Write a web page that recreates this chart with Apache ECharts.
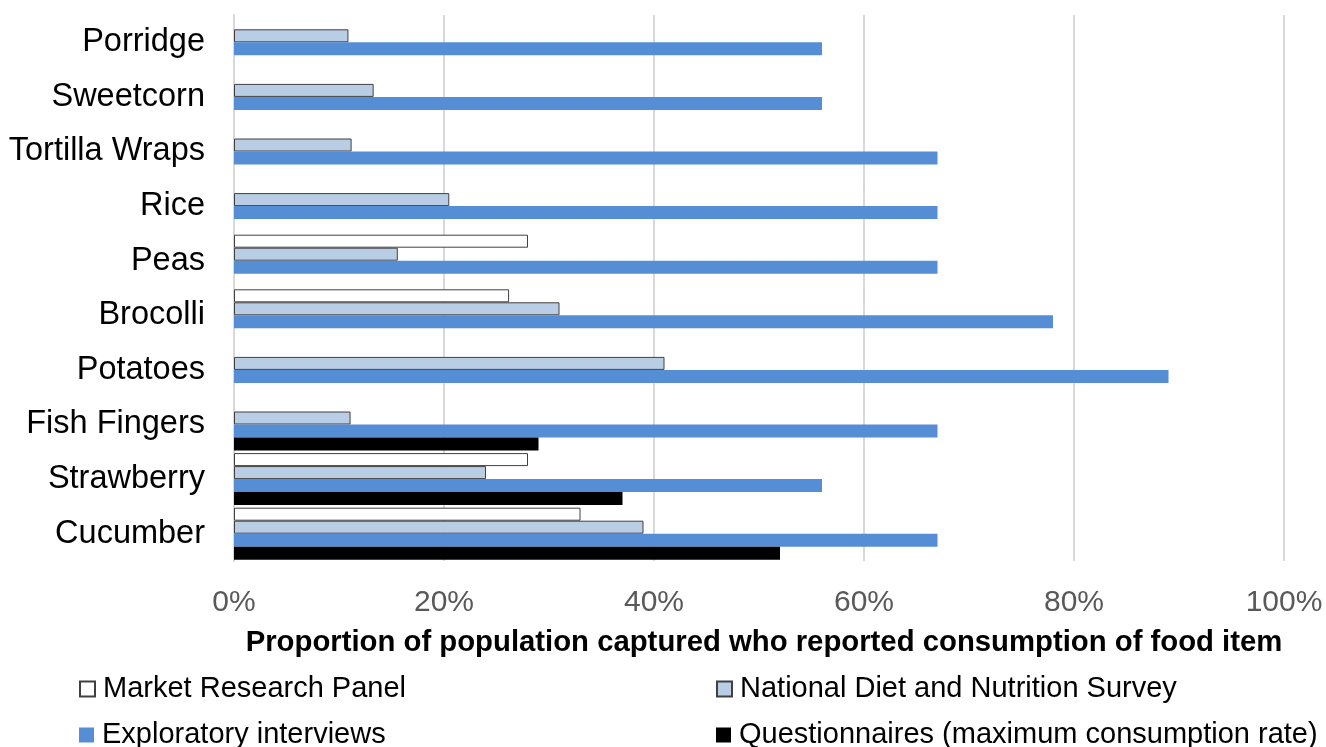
<!DOCTYPE html>
<html>
<head>
<meta charset="utf-8">
<script src="https://cdn.jsdelivr.net/npm/echarts@6/dist/echarts.min.js"></script>
<style>
html,body{margin:0;padding:0;background:#fff;}
#chart{width:1326px;height:747px;}
</style>
</head>
<body>
<div id="chart"></div>
<script>
const categories = ['Porridge','Sweetcorn','Tortilla Wraps','Rice','Peas','Brocolli','Potatoes','Fish Fingers','Strawberry','Cucumber'];
const marketResearchPanel = [null,null,null,null,28,26.2,null,null,28,33];
const ndns = [10.9,13.3,11.2,20.5,15.6,31,41,11.1,24,39];
const exploratoryInterviews = [56,56,67,67,67,78,89,67,56,67];
const questionnaires = [null,null,null,null,null,null,null,29,37,52];
const xTicks = [0,20,40,60,80,100];
const seriesNames = ['Market Research Panel','National Diet and Nutrition Survey','Exploratory interviews','Questionnaires (maximum consumption rate)'];

const FONT = '"Liberation Sans", Arial, sans-serif';
const chart = echarts.init(document.getElementById('chart'), null, {renderer:'canvas'});
const borderCol = '#404040';
const legendText = {fontFamily: FONT, fontSize: 29, lineHeight: 30, color: '#000', padding: [0,0,0,3]};
const legendPos = [[79, 674], [716, 674], [79, 720], [716, 720]];

chart.setOption({
  animation: false,
  textStyle: {fontFamily: FONT},
  grid: {left: 234, right: 42, top: 15, bottom: 186, containLabel: false},
  xAxis: {
    type: 'value', min: xTicks[0], max: xTicks[xTicks.length-1], interval: 20,
    axisLine: {show: false}, axisTick: {show: false},
    axisLabel: {formatter: '{value}%', fontFamily: FONT, fontSize: 30, color: '#595959', margin: 27},
    splitLine: {show: true, lineStyle: {color: '#d9d9d9', width: 2}},
    name: 'Proportion of population captured who reported consumption of food item',
    nameLocation: 'middle', nameGap: 67,
    nameTextStyle: {fontFamily: FONT, fontSize: 29.3, fontWeight: 'bold', color: '#000', padding: [0,0,0,10]}
  },
  yAxis: {
    type: 'category', data: categories, inverse: true,
    axisLine: {show: true, lineStyle: {color: '#d9d9d9', width: 2}},
    axisTick: {show: false},
    axisLabel: {fontFamily: FONT, fontSize: 32.5, color: '#000', margin: 29, lineHeight: 40, padding: [5,0,0,0]}
  },
  legend: seriesNames.map((n, i) => ({
    orient: 'horizontal', left: legendPos[i][0], top: legendPos[i][1], padding: 0,
    itemWidth: 15, itemHeight: 15, icon: 'rect',
    textStyle: legendText, data: [n]
  })),
  series: [
    {name: seriesNames[0], type: 'bar', data: marketResearchPanel, barWidth: 13, barGap: '0%',
     itemStyle: {color: '#ffffff', borderColor: borderCol, borderWidth: 1}},
    {name: seriesNames[1], type: 'bar', data: ndns, barWidth: 13, barGap: '0%',
     itemStyle: {color: '#b9cde5', borderColor: borderCol, borderWidth: 1}},
    {name: seriesNames[2], type: 'bar', data: exploratoryInterviews, barWidth: 13, barGap: '0%',
     itemStyle: {color: '#558ed5'}},
    {name: seriesNames[3], type: 'bar', data: questionnaires, barWidth: 13, barGap: '0%',
     itemStyle: {color: '#000000'}}
  ]
});
</script>
</body>
</html>
